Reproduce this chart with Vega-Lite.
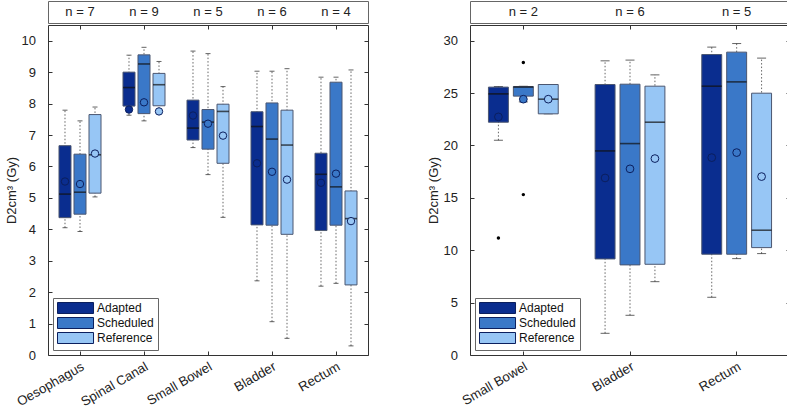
{
  "$schema": "https://vega.github.io/schema/vega-lite/v6.json",
  "padding": {"left": 4, "top": 0, "right": 1, "bottom": 0},
  "config": {
    "font": "Liberation Sans",
    "view": {"stroke": "#333", "strokeWidth": 1},
    "axis": {"labelFont": "Liberation Sans", "titleFont": "Liberation Sans", "labelFontSize": 13, "labelColor": "#222", "titleFontSize": 13, "titleFontWeight": "normal", "titleColor": "#222", "domain": false, "tickColor": "#333", "tickSize": -4, "grid": false},
    "legend": {"labelFont": "Liberation Sans"}
  },
  "datasets": {
    "L": [
      {"organ": "Oesophagus", "plan": "Adapted", "min": 4.05, "q1": 4.37, "med": 5.12, "q3": 6.66, "max": 7.79, "mean": 5.52},
      {"organ": "Oesophagus", "plan": "Scheduled", "min": 3.93, "q1": 4.48, "med": 5.18, "q3": 6.39, "max": 7.45, "mean": 5.44},
      {"organ": "Oesophagus", "plan": "Reference", "min": 5.03, "q1": 5.15, "med": 6.37, "q3": 7.65, "max": 7.89, "mean": 6.41},
      {"organ": "Spinal Canal", "plan": "Adapted", "min": 7.63, "q1": 7.92, "med": 8.51, "q3": 9.0, "max": 9.54, "mean": 7.81},
      {"organ": "Spinal Canal", "plan": "Scheduled", "min": 7.45, "q1": 7.68, "med": 9.26, "q3": 9.55, "max": 9.79, "mean": 8.04},
      {"organ": "Spinal Canal", "plan": "Reference", "min": 7.72, "q1": 7.93, "med": 8.6, "q3": 8.96, "max": 9.34, "mean": 7.75},
      {"organ": "Small Bowel", "plan": "Adapted", "min": 6.6, "q1": 6.84, "med": 7.22, "q3": 8.11, "max": 9.67, "mean": 7.62},
      {"organ": "Small Bowel", "plan": "Scheduled", "min": 5.74, "q1": 6.55, "med": 7.41, "q3": 7.81, "max": 9.59, "mean": 7.36},
      {"organ": "Small Bowel", "plan": "Reference", "min": 4.38, "q1": 6.1, "med": 7.75, "q3": 7.98, "max": 8.54, "mean": 6.98},
      {"organ": "Bladder", "plan": "Adapted", "min": 2.36, "q1": 4.14, "med": 7.27, "q3": 7.74, "max": 9.03, "mean": 6.1},
      {"organ": "Bladder", "plan": "Scheduled", "min": 1.06, "q1": 4.13, "med": 6.87, "q3": 8.02, "max": 9.03, "mean": 5.83},
      {"organ": "Bladder", "plan": "Reference", "min": 0.53, "q1": 3.84, "med": 6.68, "q3": 7.79, "max": 9.11, "mean": 5.58},
      {"organ": "Rectum", "plan": "Adapted", "min": 2.19, "q1": 3.96, "med": 5.75, "q3": 6.42, "max": 8.84, "mean": 5.48},
      {"organ": "Rectum", "plan": "Scheduled", "min": 2.28, "q1": 4.13, "med": 5.35, "q3": 8.68, "max": 8.84, "mean": 5.77},
      {"organ": "Rectum", "plan": "Reference", "min": 0.29, "q1": 2.23, "med": 4.34, "q3": 5.22, "max": 9.07, "mean": 4.26}
    ],
    "R": [
      {"organ": "Small Bowel", "plan": "Adapted", "min": 20.5, "q1": 22.22, "med": 24.93, "q3": 25.57, "max": 25.62, "mean": 22.73},
      {"organ": "Small Bowel", "plan": "Scheduled", "min": 24.16, "q1": 24.71, "med": 25.57, "q3": 25.63, "max": 25.65, "mean": 24.42},
      {"organ": "Small Bowel", "plan": "Reference", "min": 23.02, "q1": 23.02, "med": 24.42, "q3": 25.82, "max": 25.82, "mean": 24.42},
      {"organ": "Bladder", "plan": "Adapted", "min": 2.07, "q1": 9.17, "med": 19.48, "q3": 25.82, "max": 28.08, "mean": 16.9},
      {"organ": "Bladder", "plan": "Scheduled", "min": 3.79, "q1": 8.6, "med": 20.18, "q3": 25.85, "max": 28.15, "mean": 17.77},
      {"organ": "Bladder", "plan": "Reference", "min": 7.0, "q1": 8.66, "med": 22.22, "q3": 25.66, "max": 26.74, "mean": 18.75},
      {"organ": "Rectum", "plan": "Adapted", "min": 5.51, "q1": 9.62, "med": 25.66, "q3": 28.68, "max": 29.39, "mean": 18.84},
      {"organ": "Rectum", "plan": "Scheduled", "min": 9.2, "q1": 9.62, "med": 26.07, "q3": 28.91, "max": 29.73, "mean": 19.32},
      {"organ": "Rectum", "plan": "Reference", "min": 9.68, "q1": 10.25, "med": 11.91, "q3": 24.99, "max": 28.34, "mean": 17.03}
    ],
    "RO": [
      {"organ": "Small Bowel", "plan": "Adapted", "value": 11.17},
      {"organ": "Small Bowel", "plan": "Scheduled", "value": 27.92},
      {"organ": "Small Bowel", "plan": "Scheduled", "value": 15.31}
    ],
    "HL": [
      {"organ": "Oesophagus", "label": "n = 7"},
      {"organ": "Spinal Canal", "label": "n = 9"},
      {"organ": "Small Bowel", "label": "n = 5"},
      {"organ": "Bladder", "label": "n = 6"},
      {"organ": "Rectum", "label": "n = 4"}
    ],
    "HR": [
      {"organ": "Small Bowel", "label": "n = 2"},
      {"organ": "Bladder", "label": "n = 6"},
      {"organ": "Rectum", "label": "n = 5"}
    ]
  },
  "spacing": 0,
  "resolve": {"scale": {"x": "independent", "y": "independent", "xOffset": "independent"}},
  "vconcat": [
    {
      "hconcat": [
        {
          "width": 320, "height": 22,
          "view": {"stroke": "#666"},
          "data": {"name": "HL"},
          "mark": {"type": "text", "fontSize": 13, "color": "#222"},
          "encoding": {
            "x": {"field": "organ", "type": "nominal", "scale": {"domain": ["Oesophagus", "Spinal Canal", "Small Bowel", "Bladder", "Rectum"], "paddingInner": 0, "paddingOuter": 0}, "axis": null},
            "text": {"field": "label"}
          }
        },
        {
          "width": 320, "height": 22,
          "view": {"stroke": "#666"},
          "data": {"name": "HR"},
          "mark": {"type": "text", "fontSize": 13, "color": "#222"},
          "encoding": {
            "x": {"field": "organ", "type": "nominal", "scale": {"domain": ["Small Bowel", "Bladder", "Rectum"], "paddingInner": 0, "paddingOuter": 0}, "axis": null},
            "text": {"field": "label"}
          }
        }
      ],
      "spacing": 102,
      "bounds": "flush",
      "resolve": {"scale": {"x": "independent", "y": "independent"}}
    },
    {
      "hconcat": [
        {
          "width": 320, "height": 330,
          "data": {"name": "L"},
          "resolve": {"axis": {"x": "independent", "y": "independent"}},
          "encoding": {
            "x": {"field": "organ", "type": "nominal", "scale": {"domain": ["Oesophagus", "Spinal Canal", "Small Bowel", "Bladder", "Rectum"], "paddingInner": 0, "paddingOuter": 0}, "axis": null},
            "xOffset": {"field": "plan", "type": "nominal", "scale": {"domain": ["Adapted", "Scheduled", "Reference"], "paddingInner": 0.2, "paddingOuter": 0.733}}
          },
          "layer": [
            {
              "mark": {"type": "rule", "strokeDash": [1.5, 2], "color": "#666", "strokeWidth": 1},
              "encoding": {
                "x": {"field": "organ", "type": "nominal", "axis": {"orient": "bottom", "title": null, "labelAngle": -30, "labelPadding": 9, "labelFontSize": 13.2}},
                "y": {"field": "min", "type": "quantitative", "scale": {"domain": [0, 10.5], "nice": false, "zero": false}, "axis": {"orient": "left", "title": "D2cm³ (Gy)", "values": [0,1,2,3,4,5,6,7,8,9,10], "labelPadding": 16.5, "titlePadding": 3}},
                "y2": {"field": "max"}
              }
            },
            {
              "mark": {"type": "tick", "orient": "horizontal", "size": 5, "thickness": 1, "color": "#222"},
              "encoding": {
                "x": {"field": "organ", "type": "nominal", "axis": {"orient": "top", "title": null, "labels": false}},
                "y": {"field": "min", "type": "quantitative", "axis": {"orient": "right", "title": null, "labels": false, "values": [0,1,2,3,4,5,6,7,8,9,10]}}
              }
            },
            {
              "mark": {"type": "tick", "orient": "horizontal", "size": 5, "thickness": 1, "color": "#222"},
              "encoding": {"y": {"field": "max", "type": "quantitative", "axis": null}}
            },
            {
              "mark": {"type": "bar", "stroke": "#4b5670", "strokeWidth": 1},
              "encoding": {
                "y": {"field": "q1", "type": "quantitative", "axis": null},
                "y2": {"field": "q3"},
                "fill": {"field": "plan", "type": "nominal", "scale": {"domain": ["Adapted", "Scheduled", "Reference"], "range": ["#0a2d8f", "#3a78c8", "#97c6f5"]},
                  "legend": {"title": null, "orient": "bottom-left", "offset": 5, "symbolType": "M-1,-1H5.55V1H-1Z", "symbolSize": 121, "symbolStrokeColor": "#555", "symbolStrokeWidth": 1, "symbolOpacity": 1, "labelFontSize": 12, "labelColor": "#111", "labelOffset": 28, "strokeColor": "#666", "fillColor": "white", "padding": 4, "rowPadding": -1}}
              }
            },
            {
              "mark": {"type": "tick", "orient": "horizontal", "size": 12, "thickness": 1.6, "color": "#111"},
              "encoding": {"y": {"field": "med", "type": "quantitative", "axis": null}}
            },
            {
              "mark": {"type": "point", "shape": "circle", "filled": true, "size": 55, "stroke": "#0b1f5e", "strokeWidth": 1, "opacity": 1},
              "encoding": {
                "y": {"field": "mean", "type": "quantitative", "axis": null},
                "fill": {"field": "plan", "type": "nominal"}
              }
            }
          ]
        },
        {
          "width": 320, "height": 330,
          "data": {"name": "R"},
          "resolve": {"axis": {"x": "independent", "y": "independent"}},
          "encoding": {
            "x": {"field": "organ", "type": "nominal", "scale": {"domain": ["Small Bowel", "Bladder", "Rectum"], "paddingInner": 0, "paddingOuter": 0}, "axis": null},
            "xOffset": {"field": "plan", "type": "nominal", "scale": {"domain": ["Adapted", "Scheduled", "Reference"], "paddingInner": 0.2, "paddingOuter": 0.74}}
          },
          "layer": [
            {
              "mark": {"type": "rule", "strokeDash": [1.5, 2], "color": "#666", "strokeWidth": 1},
              "encoding": {
                "x": {"field": "organ", "type": "nominal", "axis": {"orient": "bottom", "title": null, "labelAngle": -30, "labelPadding": 9, "labelFontSize": 13.2}},
                "y": {"field": "min", "type": "quantitative", "scale": {"domain": [0, 31.5], "nice": false, "zero": false}, "axis": {"orient": "left", "title": "D2cm³ (Gy)", "values": [0,5,10,15,20,25,30], "labelPadding": 16.5, "titlePadding": 3}},
                "y2": {"field": "max"}
              }
            },
            {
              "mark": {"type": "tick", "orient": "horizontal", "size": 9, "thickness": 1, "color": "#222"},
              "encoding": {
                "x": {"field": "organ", "type": "nominal", "axis": {"orient": "top", "title": null, "labels": false}},
                "y": {"field": "min", "type": "quantitative", "axis": {"orient": "right", "title": null, "labels": false, "values": [0,5,10,15,20,25,30]}}
              }
            },
            {
              "mark": {"type": "tick", "orient": "horizontal", "size": 9, "thickness": 1, "color": "#222"},
              "encoding": {"y": {"field": "max", "type": "quantitative", "axis": null}}
            },
            {
              "mark": {"type": "bar", "stroke": "#4b5670", "strokeWidth": 1},
              "encoding": {
                "y": {"field": "q1", "type": "quantitative", "axis": null},
                "y2": {"field": "q3"},
                "fill": {"field": "plan", "type": "nominal", "scale": {"domain": ["Adapted", "Scheduled", "Reference"], "range": ["#0a2d8f", "#3a78c8", "#97c6f5"]},
                  "legend": {"title": null, "orient": "bottom-left", "offset": 5, "symbolType": "M-1,-1H5.55V1H-1Z", "symbolSize": 121, "symbolStrokeColor": "#555", "symbolStrokeWidth": 1, "symbolOpacity": 1, "labelFontSize": 12, "labelColor": "#111", "labelOffset": 28, "strokeColor": "#666", "fillColor": "white", "padding": 4, "rowPadding": -1}}
              }
            },
            {
              "mark": {"type": "tick", "orient": "horizontal", "size": 20, "thickness": 1.6, "color": "#111"},
              "encoding": {"y": {"field": "med", "type": "quantitative", "axis": null}}
            },
            {
              "mark": {"type": "point", "shape": "circle", "filled": true, "size": 60, "stroke": "#0b1f5e", "strokeWidth": 1, "opacity": 1},
              "encoding": {
                "y": {"field": "mean", "type": "quantitative", "axis": null},
                "fill": {"field": "plan", "type": "nominal"}
              }
            },
            {
              "data": {"name": "RO"},
              "mark": {"type": "point", "shape": "circle", "filled": true, "size": 12, "color": "#000", "opacity": 1},
              "encoding": {
                "y": {"field": "value", "type": "quantitative", "axis": null}
              }
            }
          ]
        }
      ],
      "spacing": 102,
      "bounds": "flush",
      "resolve": {"scale": {"x": "independent", "y": "independent", "xOffset": "independent", "fill": "independent"}, "legend": {"fill": "independent"}}
    }
  ]
}
